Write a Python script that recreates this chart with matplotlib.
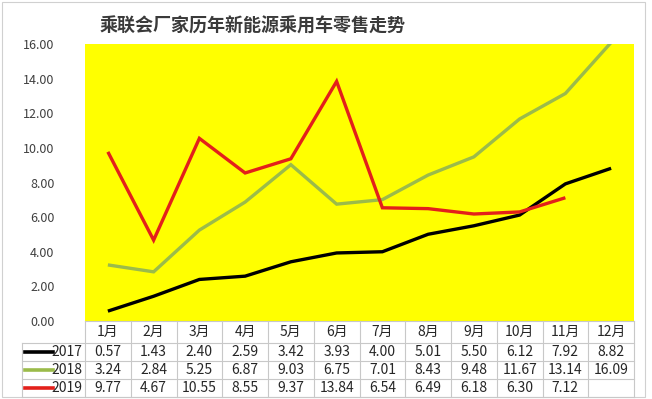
import matplotlib
matplotlib.use("Agg")
import matplotlib.pyplot as plt
from matplotlib.transforms import blended_transform_factory
from matplotlib.lines import Line2D
from matplotlib.patches import Rectangle

plt.rcParams['font.family'] = ['Noto Sans CJK SC', 'DejaVu Sans']

months = ['1月', '2月', '3月', '4月', '5月', '6月', '7月', '8月', '9月', '10月', '11月', '12月']
years = ['2017', '2018', '2019']
v2017 = [0.57, 1.43, 2.40, 2.59, 3.42, 3.93, 4.00, 5.01, 5.50, 6.12, 7.92, 8.82]
v2018 = [3.24, 2.84, 5.25, 6.87, 9.03, 6.75, 7.01, 8.43, 9.48, 11.67, 13.14, 16.09]
v2019 = [9.77, 4.67, 10.55, 8.55, 9.37, 13.84, 6.54, 6.49, 6.18, 6.30, 7.12]
series = [v2017, v2018, v2019]
colors = ['#000000', '#9BBB4A', '#E3201B']
title = '乘联会厂家历年新能源乘用车零售走势'

W, H = 652, 399
fig = plt.figure(figsize=(W / 100, H / 100), dpi=100)
fig.patch.set_facecolor('white')

# plot area in pixels
L, R, T, B = 85, 634, 44, 321
ax = fig.add_axes([L / W, 1 - B / H, (R - L) / W, (B - T) / H])
ax.set_facecolor('#FFFF00')
for s in ax.spines.values():
    s.set_visible(False)

x = list(range(len(months)))
for vals, c in zip(series, colors):
    ax.plot(x[:len(vals)], vals, color=c, lw=2.4, solid_capstyle='butt', solid_joinstyle='miter')

ax.set_xlim(-0.5, len(months) - 0.5)
ax.set_ylim(0, 16)
ax.set_yticks([0, 2, 4, 6, 8, 10, 12, 14, 16])
ax.set_yticklabels([f'{t:.2f}' for t in [0, 2, 4, 6, 8, 10, 12, 14, 16]], fontsize=9, color='#404040')
ax.tick_params(axis='y', length=0, pad=22)
ax.set_xticks([])

fig.text(253 / W, 1 - 26 / H, title, ha='center', va='center', fontsize=13, color='#3A3A3A', weight='bold')

# data table below plot
tr = blended_transform_factory(ax.transData, fig.transFigure)
colw = (R - L) / len(months)
def fy(p):
    return 1 - p / H
def xd(px):
    return -0.5 + (px - L) / colw

rows_px = [321, 343, 361, 379, 397]
grid = '#C8C8C8'
lx = xd(22)
xr = len(months) - 0.5
# horizontal lines
fig.add_artist(Line2D([-0.5, xr], [fy(321), fy(321)], transform=tr, color=grid, lw=0.8))
for p in rows_px[1:]:
    fig.add_artist(Line2D([lx, xr], [fy(p), fy(p)], transform=tr, color=grid, lw=0.8))
# vertical lines
for i in range(len(months) + 1):
    xv = i - 0.5
    fig.add_artist(Line2D([xv, xv], [fy(321), fy(397)], transform=tr, color=grid, lw=0.8))
fig.add_artist(Line2D([lx, lx], [fy(343), fy(397)], transform=tr, color=grid, lw=0.8))

tc = '#262626'
for i, m in enumerate(months):
    fig.text(i, fy((321 + 343) / 2), m, transform=tr, ha='center', va='center', fontsize=10, color=tc)

for r, (yr, vals, c) in enumerate(zip(years, series, colors)):
    yc = fy((rows_px[r + 1] + rows_px[r + 2]) / 2)
    fig.add_artist(Line2D([xd(25), xd(53)], [yc, yc], transform=tr, color=c, lw=2.6))
    fig.text(xd(82), yc, yr, transform=tr, ha='right', va='center', fontsize=10, color=tc)
    for i, v in enumerate(vals):
        fig.text(i, yc, f'{v:.2f}', transform=tr, ha='center', va='center', fontsize=10, color=tc)

# outer border
fig.add_artist(Rectangle((2 / W, 2 / H), (645 - 2) / W, (397 - 2) / H, transform=fig.transFigure,
                         fill=False, edgecolor='#D0D0D0', lw=0.8))

fig.savefig('out.png', dpi=100)
